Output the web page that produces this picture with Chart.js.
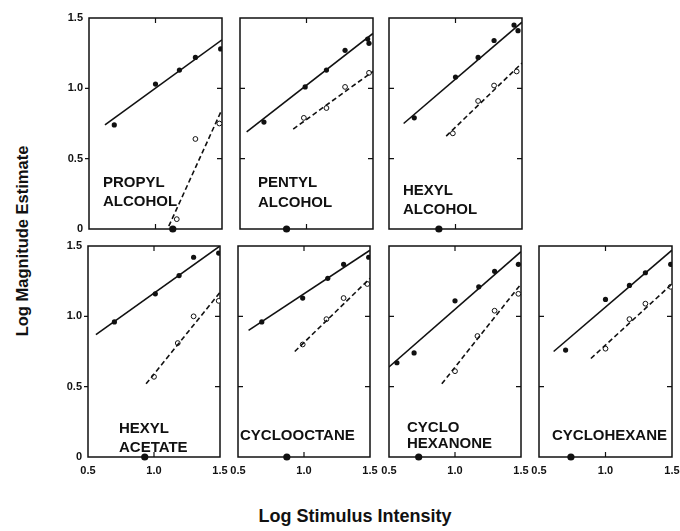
<!DOCTYPE html>
<html>
<head>
<meta charset="utf-8">
<script src="https://cdn.jsdelivr.net/npm/chart.js@4"></script>
<style>
  body { margin: 0; background: #fff; }
  #wrap { position: relative; width: 680px; height: 531px; overflow: hidden; font-family: "Liberation Sans", Arial, sans-serif; }
  #wrap canvas { position: absolute; }
  .title { position: absolute; font-weight: bold; color: #111; white-space: nowrap; }
  #xTitle { font-size: 18px; left: 355px; top: 516px; transform: translate(-50%, -50%); }
  #yTitle { font-size: 16.5px; left: 22px; top: 241px; transform: translate(-50%, -50%) rotate(-90deg); }
</style>
</head>
<body>
<div id="wrap">
  <div class="title" id="xTitle">Log Stimulus Intensity</div>
  <div class="title" id="yTitle">Log Magnitude Estimate</div>
</div>
<script>
const panelNames = [
  ['PROPYL', 'ALCOHOL'], ['PENTYL', 'ALCOHOL'], ['HEXYL', 'ALCOHOL'],
  ['HEXYL', 'ACETATE'], ['CYCLOOCTANE'], ['CYCLO', 'HEXANONE'], ['CYCLOHEXANE']
];

const xTicks = [0.5, 1.0, 1.5];
const yTicks = [0, 0.5, 1.0, 1.5];

// filled circles
const filledX = [
  [0.69, 1.00, 1.18, 1.30, 1.49],
  [0.68, 0.99, 1.15, 1.29, 1.46, 1.47],
  [0.69, 1.00, 1.17, 1.29, 1.44, 1.47],
  [0.70, 1.01, 1.19, 1.30, 1.49],
  [0.68, 0.99, 1.18, 1.30, 1.49],
  [0.56, 0.69, 1.00, 1.18, 1.30, 1.48],
  [0.70, 1.00, 1.18, 1.30, 1.49]
];
const filledY = [
  [0.74, 1.03, 1.13, 1.22, 1.28],
  [0.76, 1.01, 1.13, 1.27, 1.35, 1.32],
  [0.79, 1.08, 1.22, 1.34, 1.45, 1.41],
  [0.96, 1.16, 1.29, 1.42, 1.45],
  [0.96, 1.13, 1.27, 1.37, 1.42],
  [0.67, 0.74, 1.11, 1.21, 1.32, 1.37],
  [0.76, 1.12, 1.22, 1.31, 1.37]
];

// open circles
const openX = [
  [1.16, 1.30, 1.48],
  [0.98, 1.15, 1.29, 1.47],
  [0.98, 1.17, 1.29, 1.46],
  [1.00, 1.18, 1.30, 1.49],
  [0.99, 1.17, 1.30, 1.48],
  [1.00, 1.17, 1.30, 1.48],
  [1.00, 1.18, 1.30, 1.49]
];
const openY = [
  [0.07, 0.64, 0.75],
  [0.79, 0.86, 1.01, 1.11],
  [0.68, 0.91, 1.02, 1.12],
  [0.57, 0.81, 1.00, 1.11],
  [0.80, 0.98, 1.13, 1.23],
  [0.61, 0.86, 1.04, 1.16],
  [0.77, 0.98, 1.09, 1.21]
];

// fitted lines, start and end
const solidFitX = [[0.62, 1.5], [0.55, 1.5], [0.61, 1.5], [0.56, 1.5], [0.58, 1.5], [0.5, 1.5], [0.61, 1.5]];
const solidFitY = [[0.74, 1.345], [0.69, 1.39], [0.75, 1.47], [0.87, 1.50], [0.90, 1.47], [0.64, 1.46], [0.75, 1.47]];
const dashFitX = [[1.10, 1.49], [0.90, 1.5], [0.93, 1.5], [0.94, 1.5], [0.93, 1.5], [0.90, 1.5], [0.89, 1.5]];
const dashFitY = [[0.02, 0.83], [0.71, 1.12], [0.66, 1.18], [0.52, 1.17], [0.75, 1.27], [0.52, 1.23], [0.70, 1.23]];

// threshold dot on the x axis
const zeroX = [1.13, 0.85, 0.875, 0.93, 0.87, 0.725, 0.74];

// panel boxes (plot area) and label placement
const boxes = [
  { left: 89, top: 18, w: 133, yLab: true, xLab: false },
  { left: 240, top: 18, w: 133, yLab: false, xLab: false },
  { left: 389, top: 18, w: 133, yLab: false, xLab: false },
  { left: 88, top: 246, w: 132, yLab: true, xLab: true },
  { left: 238, top: 246, w: 132, yLab: false, xLab: true },
  { left: 389, top: 246, w: 132, yLab: false, xLab: true },
  { left: 539, top: 246, w: 133, yLab: false, xLab: true }
];
const boxH = 211;
const labelPos = [[14, 165, 19], [18, 165, 20], [14, 173, 19], [31, 183, 19], [2, 190, 0], [18, 182, 16], [13, 190, 0]];

const padL = 40, padT = 10, padR = 10, padB = 24;
const ink = '#111';

const pts = (xs, ys) => xs.map((x, i) => ({ x: x, y: ys[i] }));

const framePlugin = {
  id: 'frame',
  beforeDatasetsDraw(chart, args, opts) {
    const { ctx, chartArea: a, scales } = chart;
    ctx.save();
    ctx.strokeStyle = ink;
    ctx.lineWidth = 1.5;
    ctx.strokeRect(a.left, a.top, a.right - a.left, a.bottom - a.top);
    ctx.lineWidth = 1.2;
    ctx.beginPath();
    const xm = scales.x.getPixelForValue(1.0);
    ctx.moveTo(xm, a.top); ctx.lineTo(xm, a.top + 5);
    ctx.moveTo(xm, a.bottom); ctx.lineTo(xm, a.bottom - 5);
    [0.5, 1.0].forEach(v => {
      const yp = scales.y.getPixelForValue(v);
      if (opts.outLeft) { ctx.moveTo(a.left, yp); ctx.lineTo(a.left - 4, yp); }
      else { ctx.moveTo(a.left, yp); ctx.lineTo(a.left + 5, yp); }
      ctx.moveTo(a.right, yp); ctx.lineTo(a.right - 5, yp);
    });
    ctx.stroke();
    // panel name
    ctx.fillStyle = ink;
    ctx.font = 'bold 15px "Liberation Sans", Arial, sans-serif';
    ctx.textBaseline = 'middle';
    ctx.textAlign = 'left';
    const p = opts.pos;
    opts.name.forEach((t, i) => ctx.fillText(t, a.left + p[0], a.top + p[1] + i * p[2]));
    ctx.restore();
  }
};

const wrap = document.getElementById('wrap');

boxes.forEach((b, k) => {
  const cv = document.createElement('canvas');
  const cw = b.w + padL + padR, ch = boxH + padT + padB;
  cv.width = cw; cv.height = ch;
  cv.style.width = cw + 'px'; cv.style.height = ch + 'px';
  cv.style.left = (b.left - padL) + 'px';
  cv.style.top = (b.top - padT) + 'px';
  wrap.appendChild(cv);

  new Chart(cv, {
    type: 'scatter',
    data: {
      datasets: [
        {
          type: 'line',
          data: pts(solidFitX[k], solidFitY[k]),
          borderColor: ink,
          borderWidth: 1.6,
          pointRadius: 0,
          fill: false
        },
        {
          type: 'line',
          data: pts(dashFitX[k], dashFitY[k]),
          borderColor: ink,
          borderWidth: 1.6,
          borderDash: [5, 3],
          pointRadius: 0,
          fill: false
        },
        {
          data: pts(filledX[k], filledY[k]),
          pointRadius: 2.6,
          pointBackgroundColor: ink,
          pointBorderColor: ink,
          pointBorderWidth: 0
        },
        {
          data: pts(openX[k], openY[k]),
          pointRadius: 2.4,
          pointBackgroundColor: '#fff',
          pointBorderColor: ink,
          pointBorderWidth: 1
        },
        {
          data: [{ x: zeroX[k], y: 0 }],
          pointRadius: 3.6,
          pointBackgroundColor: ink,
          pointBorderColor: ink,
          pointBorderWidth: 0,
          clip: false
        }
      ]
    },
    options: {
      responsive: false,
      animation: false,
      events: [],
      layout: { padding: { left: 0, top: padT, right: padR, bottom: 0 } },
      plugins: {
        legend: { display: false },
        tooltip: { enabled: false },
        frame: { name: panelNames[k], pos: labelPos[k], outLeft: b.yLab }
      },
      scales: {
        x: {
          type: 'linear',
          min: 0.5,
          max: 1.5,
          grid: { display: false, drawTicks: false },
          border: { display: false },
          afterBuildTicks: s => { s.ticks = xTicks.map(v => ({ value: v })); },
          afterFit: s => { s.height = padB; s.paddingLeft = 0; s.paddingRight = 0; },
          ticks: {
            display: b.xLab,
            color: ink,
            padding: 7,
            maxRotation: 0,
            autoSkip: false,
            font: { family: '"Liberation Sans", Arial, sans-serif', size: 11, weight: 'bold' },
            callback: v => Number(v).toFixed(1)
          }
        },
        y: {
          type: 'linear',
          min: 0,
          max: 1.5,
          grid: { display: false, drawTicks: false },
          border: { display: false },
          afterBuildTicks: s => { s.ticks = yTicks.map(v => ({ value: v })); },
          afterFit: s => { s.width = padL; s.paddingTop = 0; s.paddingBottom = 0; },
          ticks: {
            display: b.yLab,
            color: ink,
            padding: 6,
            autoSkip: false,
            font: { family: '"Liberation Sans", Arial, sans-serif', size: 11, weight: 'bold' },
            callback: v => v === 0 ? '0' : Number(v).toFixed(1)
          }
        }
      }
    },
    plugins: [framePlugin]
  });
});
</script>
</body>
</html>
